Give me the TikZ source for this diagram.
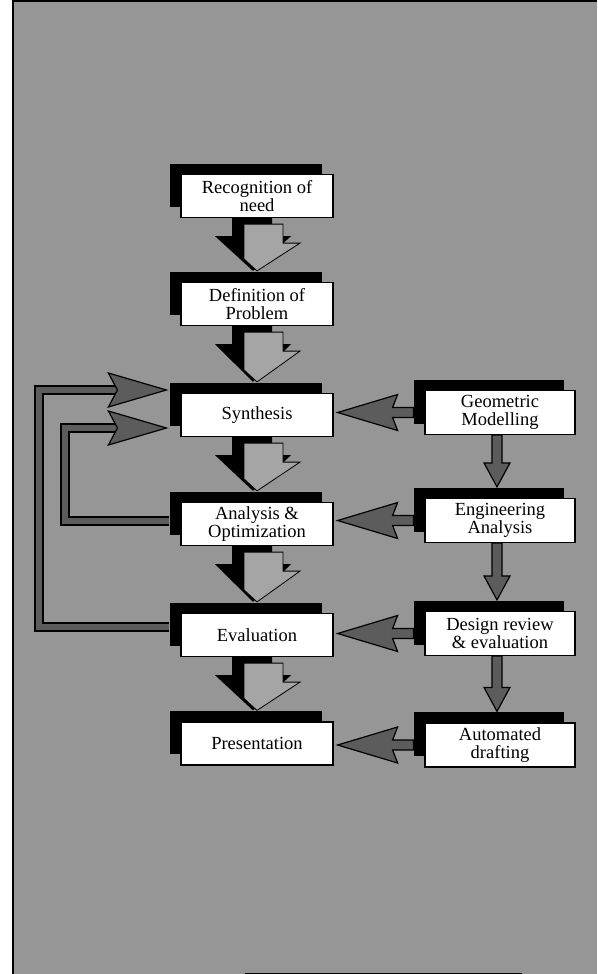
\documentclass[tikz,border=0pt]{standalone}
\usepackage{fontspec}
\setmainfont{Liberation Serif}
\usetikzlibrary{calc,shadows}

\definecolor{screen}{RGB}{150,150,150}
\definecolor{darkscreen}{RGB}{92,92,92}
\definecolor{lightscreen}{RGB}{165,165,165}

\pgfdeclarelayer{back}
\pgfdeclarelayer{links}
\pgfsetlayers{back,links,main}

% wide block arrow between two stacked stages: black body with a screened copy
\newcommand\bigdrop[2]{%
  \path[blackblock] let \p1=(#1.south), \p2=(#2.north) in
    (\x1-25pt,\y1) -- (\x1+15pt,\y1) -- (\x1+15pt,\y1-18pt) -- (\x1+34pt,\y1-18pt)
    -- (\x1-4pt,\y2+11pt) -- (\x1-42pt,\y1-18pt) -- (\x1-25pt,\y1-18pt) -- cycle;
  \path[grayblock] let \p1=(#1.south), \p2=(#2.north) in
    (\x1-13pt,\y1-6pt) -- (\x1+26pt,\y1-6pt) -- (\x1+26pt,\y1-25pt) -- (\x1+43pt,\y1-25pt)
    -- (\x1,\y2+11pt) -- (\x1-13pt,\y2+23pt) -- cycle;}

% narrow downward dart between two tool boxes
\newcommand\vdart[2]{%
  \path[darkarrow] let \p1=(#1.south), \p2=(#2.north) in
    (\x1-8pt,\y1) -- (\x1+2pt,\y1) -- (\x1+2pt,\y2+35pt) -- (\x1+10pt,\y2+35pt)
    -- (\x1-3pt,\y2+11pt) -- (\x1-16pt,\y2+35pt) -- (\x1-8pt,\y2+35pt) -- cycle;}

% leftward dart from a tool box to a design stage
\newcommand\hdart[2]{%
  \path[darkarrow] let \p1=(#1.west), \p2=(#2.east) in
    (\x2+4pt,\y1) -- (\x2+64pt,\y1+18pt) -- (\x2+59pt,\y1+5pt) -- (\x1-11pt,\y1+5pt)
    -- (\x1-11pt,\y1-5pt) -- (\x2+59pt,\y1-5pt) -- (\x2+64pt,\y1-18pt) -- cycle;}

% rightward head at the end of a feedback loop
\newcommand\rdart[1]{%
  \path[darkarrow] (#1) -- ++(-58,-17) -- ++(9,17) -- ++(-9,17) -- cycle;}

\begin{document}
\begin{tikzpicture}[x=1pt,y=-1pt,
  stagebox/.style={draw=black, line width=1.2pt, fill=white, inner sep=0pt,
    align=center, font=\fontsize{18.5}{17.5}\selectfont,
    general shadow={fill=black, shadow xshift=-11pt, shadow yshift=11pt}},
  leftbox/.style={stagebox, minimum width=152pt, minimum height=43pt},
  rightbox/.style={stagebox, minimum width=150pt, minimum height=44pt},
  blackblock/.style={fill=black},
  grayblock/.style={fill=lightscreen, draw=black, line width=0.8pt, line join=miter},
  darkarrow/.style={fill=darkscreen, draw=black, line width=1.2pt, line join=miter},
  loopline/.style={draw=black, line width=2pt, double=darkscreen,
    double distance=6pt, line join=miter}]

\useasboundingbox (0,0) rectangle (597,974);

% screened panel with its frame
\begin{pgfonlayer}{back}
  \fill[white] (0,0) rectangle (597,974);
  \fill[screen] (13,2) rectangle (597,974);
  \draw[line width=2.5pt] (13,0) -- (13,974);
  \draw[line width=2.2pt] (12,1.2) -- (597,1.2);
  \draw[line width=1.2pt] (245,973.5) -- (522,973.5);
\end{pgfonlayer}

% design process stages
\node[leftbox] (rec) at (257,196) {Recognition of\\need};
\node[leftbox] (def) at (257,304) {Definition of\\Problem};
\node[leftbox] (syn) at (257,415) {Synthesis};
\node[leftbox] (ana) at (257,524) {Analysis \&\\Optimization};
\node[leftbox] (eva) at (257,635) {Evaluation};
\node[leftbox] (pre) at (257,743.5) {Presentation};

% computer aided tools
\node[rightbox] (geo) at (500,412.5) {Geometric\\Modelling};
\node[rightbox] (eng) at (500,520.5) {Engineering\\Analysis};
\node[rightbox] (des) at (500,633.5) {Design review\\\& evaluation};
\node[rightbox] (aut) at (500,745) {Automated\\drafting};

\coordinate (outTip) at ($(syn.west)+(-14,-25)$);
\coordinate (inTip) at ($(syn.west)+(-14,13)$);

\begin{pgfonlayer}{links}
  \bigdrop{rec}{def}
  \bigdrop{def}{syn}
  \bigdrop{syn}{ana}
  \bigdrop{ana}{eva}
  \bigdrop{eva}{pre}

  \vdart{geo}{eng}
  \vdart{eng}{des}
  \vdart{des}{aut}

  \hdart{geo}{syn}
  \hdart{eng}{ana}
  \hdart{des}{eva}
  \hdart{aut}{pre}

  % feedback loops back to synthesis
  \draw[loopline] ($(eva.west)+(-11,-8)$) -- ++(-130,0) |- ($(outTip)+(-50,0)$);
  \draw[loopline] ($(ana.west)+(-11,-3)$) -- ++(-104,0) |- ($(inTip)+(-50,0)$);
  \rdart{outTip}
  \rdart{inTip}
\end{pgfonlayer}
\end{tikzpicture}
\end{document}
